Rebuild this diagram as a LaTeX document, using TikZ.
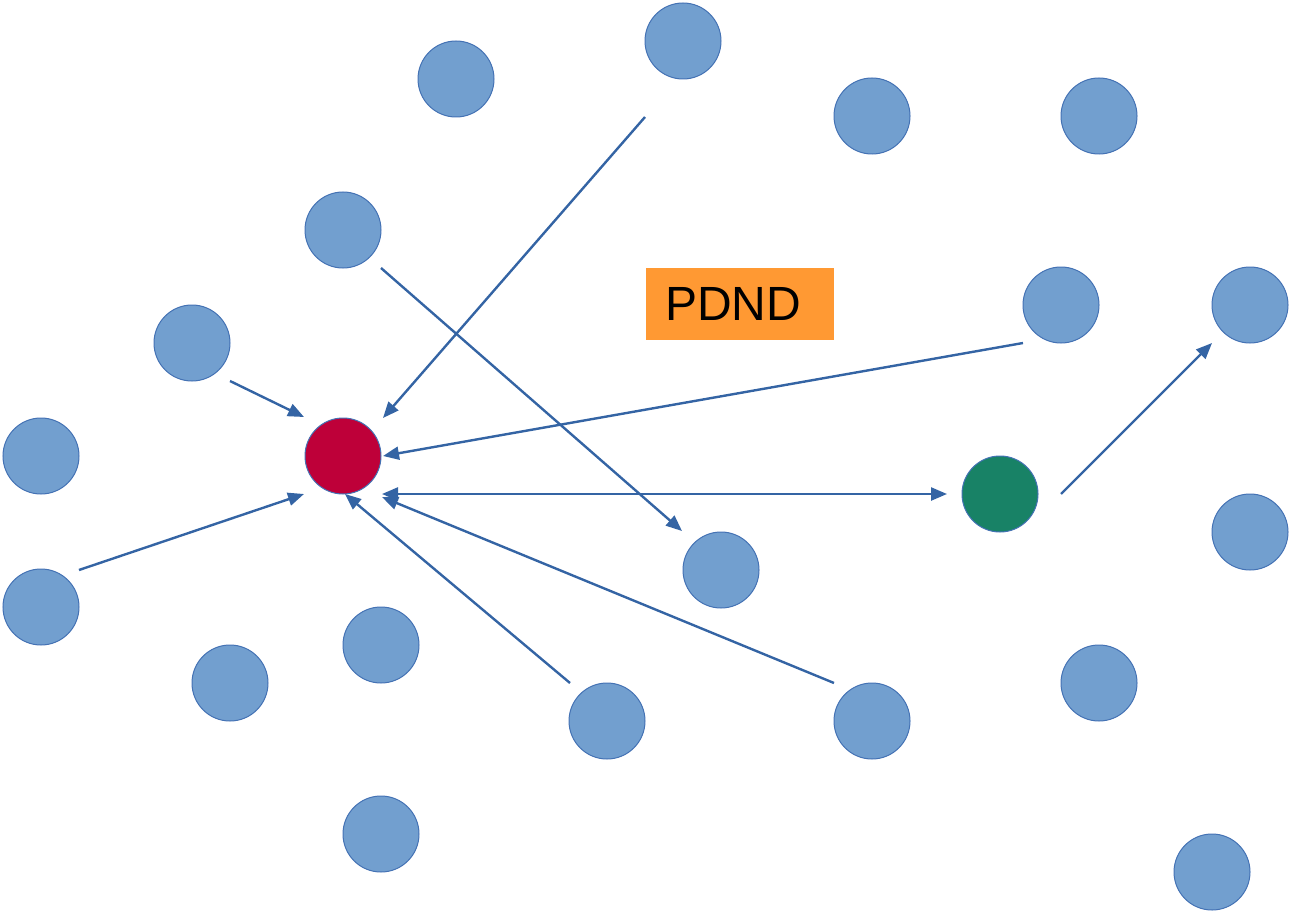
\documentclass[tikz,border=0pt]{standalone}
\usepackage{fontspec}
\setmainfont{Liberation Sans}
\usetikzlibrary{arrows.meta}
\definecolor{cfill}{RGB}{114,159,207}
\definecolor{cedge}{RGB}{68,114,180}
\definecolor{cred}{RGB}{190,0,57}
\definecolor{cgreen}{RGB}{24,130,102}
\definecolor{cline}{RGB}{52,100,164}
\definecolor{corange}{RGB}{255,153,51}
\tikzset{
  dot/.style={circle, minimum size=76pt, inner sep=0pt, fill=cfill, draw=cedge, line width=1pt},
  reddot/.style={dot, fill=cred},
  greendot/.style={dot, fill=cgreen},
  link/.style={cline, line width=2.4pt, -{Triangle[length=16pt,width=13pt]}},
  dlink/.style={cline, line width=2.4pt, {Triangle[length=16pt,width=13pt]}-{Triangle[length=16pt,width=13pt]}},
  label/.style={fill=corange, minimum width=188pt, minimum height=72pt, inner sep=0pt, font=\fontsize{48}{50}\selectfont}
}
\begin{document}
\begin{tikzpicture}[x=1pt,y=-1pt]
\useasboundingbox (0,0) rectangle (1289,912);
\node[dot] (n1) at (456,79) {};
\node[dot] (n2) at (683,41) {};
\node[dot] (n3) at (872,116) {};
\node[dot] (n4) at (1099,116) {};
\node[dot] (n5) at (343,230) {};
\node[dot] (n6) at (192,343) {};
\node[dot] (n7) at (1061,305) {};
\node[dot] (n8) at (1250,305) {};
\node[dot] (n9) at (41,456) {};
\node[reddot] (red) at (343,456) {};
\node[greendot] (green) at (1000,494) {};
\node[dot] (n12) at (1250,532) {};
\node[dot] (n13) at (41,607) {};
\node[dot] (n14) at (721,570) {};
\node[dot] (n15) at (381,645) {};
\node[dot] (n16) at (230,683) {};
\node[dot] (n17) at (607,721) {};
\node[dot] (n18) at (872,721) {};
\node[dot] (n19) at (1099,683) {};
\node[dot] (n20) at (381,834) {};
\node[dot] (n21) at (1212,872) {};
\node[label] (pdnd) at (740,304) {\raisebox{-3pt}{\hspace*{-14pt}PDND}};
% arrow endpoints
\coordinate (a1) at (645,117); \coordinate (a2) at (383,418);
\coordinate (b1) at (381,268); \coordinate (b2) at (682,531);
\coordinate (c1) at (230,381); \coordinate (c2) at (304,417);
\coordinate (d1) at (1023,343); \coordinate (d2) at (383,456);
\coordinate (e1) at (79,570); \coordinate (e2) at (304,494);
\coordinate (f1) at (382,494); \coordinate (f2) at (947,494);
\coordinate (g1) at (570,683); \coordinate (g2) at (345,494);
\coordinate (h1) at (834,683); \coordinate (h2) at (382,497);
\coordinate (i1) at (1061,494); \coordinate (i2) at (1212,343);
\draw[link] (a1) -- (a2);
\draw[link] (b1) -- (b2);
\draw[link] (c1) -- (c2);
\draw[link] (d1) -- (d2);
\draw[link] (e1) -- (e2);
\draw[dlink] (f1) -- (f2);
\draw[link] (g1) -- (g2);
\draw[link] (h1) -- (h2);
\draw[link] (i1) -- (i2);
\end{tikzpicture}
\end{document}
